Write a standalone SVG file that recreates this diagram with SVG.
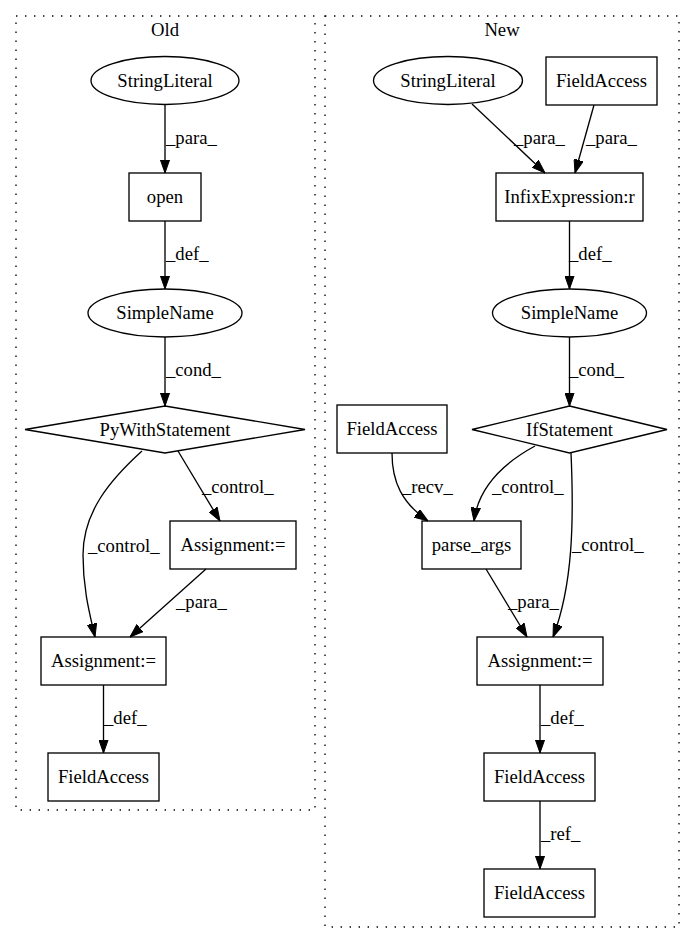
<svg xmlns="http://www.w3.org/2000/svg" width="695" height="944" viewBox="0 0 695 944">
<style>
text{font-family:"Liberation Serif","Times New Roman",serif;font-size:18.67px;fill:#000}
.n{text-anchor:middle}
.shape{fill:none;stroke:#000;stroke-width:1.33}
.cl{fill:none;stroke:#000;stroke-width:1.33;stroke-dasharray:1.4,7.6}
.e{fill:none;stroke:#000;stroke-width:1.33;marker-end:url(#arr)}
</style>
<defs>
<marker id="arr" viewBox="0 0 13.4 10" refX="13.4" refY="5" markerWidth="13.4" markerHeight="10" markerUnits="userSpaceOnUse" orient="auto">
<path d="M0,0.3 L13.4,5 L0,9.7 Z" fill="#000" stroke="#000" stroke-width="1"/>
</marker>
</defs>
<rect width="695" height="944" fill="#fff"/>
<g id="cluster_old">
<rect class="cl" x="16" y="16" width="299" height="794"/>
<text class="n" x="165" y="36">Old</text>
</g>
<g id="cluster_new">
<rect class="cl" x="325" y="16" width="354" height="911"/>
<text class="n" x="502" y="36">New</text>
</g>
<g id="connectors">
<path class="e" d="M165,104 L165,173"/>
<text x="166" y="144">_para_</text>
<path class="e" d="M165,221 L165,289"/>
<text x="166" y="260">_def_</text>
<path class="e" d="M165,337 L165,406"/>
<text x="166" y="376">_cond_</text>
<path class="e" d="M178,451 L220,521"/>
<text x="202" y="493">_control_</text>
<path class="e" d="M142,451 C110,480 83,512 83,555 C83,590 90,615 95,637"/>
<text x="88" y="552">_control_</text>
<path class="e" d="M206,569 L130,637"/>
<text x="176" y="608">_para_</text>
<path class="e" d="M103.5,685 L103.5,753"/>
<text x="104" y="724">_def_</text>

<path class="e" d="M472,104 L545,173"/>
<text x="514" y="144">_para_</text>
<path class="e" d="M594,105 L575,173"/>
<text x="586" y="144">_para_</text>
<path class="e" d="M569.5,221 L569.5,289"/>
<text x="569" y="260">_def_</text>
<path class="e" d="M569.5,337 L569.5,406"/>
<text x="569" y="376">_cond_</text>
<path class="e" d="M392,453 C392,482 402,503 428,521"/>
<text x="402" y="493">_recv_</text>
<path class="e" d="M535,446 C500,465 478,490 474,521"/>
<text x="492" y="493">_control_</text>
<path class="e" d="M571,453 C574,520 573,585 553,637"/>
<text x="572" y="551">_control_</text>
<path class="e" d="M486,569 L527,637"/>
<text x="508" y="608">_para_</text>
<path class="e" d="M540,685 L540,753"/>
<text x="541" y="724">_def_</text>
<path class="e" d="M540,801 L540,869"/>
<text x="541" y="840">_ref_</text>
</g>

<g id="old_stringliteral">
<ellipse class="shape" cx="165" cy="80.5" rx="74" ry="24"/>
<text class="n" x="165" y="86.5">StringLiteral</text>
</g>
<g id="old_open">
<rect class="shape" x="129" y="173" width="72" height="48"/>
<text class="n" x="165" y="203">open</text>
</g>
<g id="old_simplename">
<ellipse class="shape" cx="165" cy="313" rx="77" ry="24"/>
<text class="n" x="165" y="319">SimpleName</text>
</g>
<g id="old_pywith">
<polygon class="shape" points="165,406 305,429.5 165,453 25,429.5"/>
<text class="n" x="165" y="435.5">PyWithStatement</text>
</g>
<g id="old_assign_right">
<rect class="shape" x="170" y="521" width="126" height="48"/>
<text class="n" x="233" y="551">Assignment:=</text>
</g>
<g id="old_assign_bottom">
<rect class="shape" x="41" y="637" width="125" height="48"/>
<text class="n" x="103.5" y="667">Assignment:=</text>
</g>
<g id="old_fieldaccess">
<rect class="shape" x="48" y="753" width="111" height="48"/>
<text class="n" x="103.5" y="783">FieldAccess</text>
</g>

<g id="new_stringliteral">
<ellipse class="shape" cx="448" cy="80.5" rx="74.5" ry="24"/>
<text class="n" x="448" y="86.5">StringLiteral</text>
</g>
<g id="new_fieldaccess_top">
<rect class="shape" x="546" y="57" width="111" height="48"/>
<text class="n" x="601.5" y="87">FieldAccess</text>
</g>
<g id="new_infix">
<rect class="shape" x="496" y="173" width="147" height="48"/>
<text class="n" x="569.5" y="203">InfixExpression:r</text>
</g>
<g id="new_simplename">
<ellipse class="shape" cx="569.5" cy="313" rx="77" ry="24"/>
<text class="n" x="569.5" y="319">SimpleName</text>
</g>
<g id="new_ifstatement">
<polygon class="shape" points="569.5,406 667,429.5 569.5,453 472,429.5"/>
<text class="n" x="569.5" y="435.5">IfStatement</text>
</g>
<g id="new_fieldaccess_left">
<rect class="shape" x="337" y="405" width="110" height="48"/>
<text class="n" x="392" y="435">FieldAccess</text>
</g>
<g id="new_parse_args">
<rect class="shape" x="422" y="521" width="99" height="48"/>
<text class="n" x="471.5" y="551">parse_args</text>
</g>
<g id="new_assign">
<rect class="shape" x="477" y="637" width="126" height="48"/>
<text class="n" x="540" y="667">Assignment:=</text>
</g>
<g id="new_fieldaccess_mid">
<rect class="shape" x="484" y="753" width="111" height="48"/>
<text class="n" x="539.5" y="783">FieldAccess</text>
</g>
<g id="new_fieldaccess_bottom">
<rect class="shape" x="484" y="869" width="111" height="48"/>
<text class="n" x="539.5" y="899">FieldAccess</text>
</g>
</svg>
